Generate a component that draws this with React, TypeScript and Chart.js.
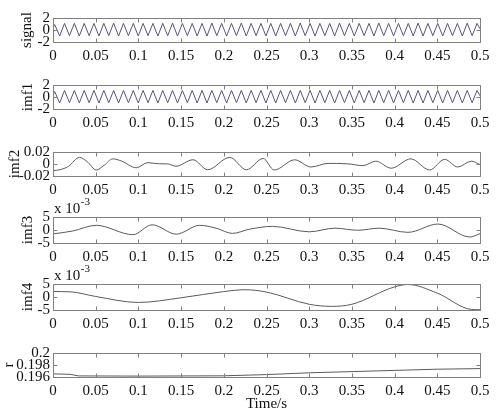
import React, { useEffect, useRef } from 'react';
import { Chart, registerables } from 'chart.js';

Chart.register(...registerables);

// ---------- data ----------
const X_TICKS = [0, 0.05, 0.1, 0.15, 0.2, 0.25, 0.3, 0.35, 0.4, 0.45, 0.5];
const X_TICK_LABELS = ['0', '0.05', '0.1', '0.15', '0.2', '0.25', '0.3', '0.35', '0.4', '0.45', '0.5'];

// times of the extrema of the fast oscillation (signal / imf1)
const EXTREMA_T = [
  0,
  0.002, 0.0078, 0.0135, 0.0193, 0.025, 0.0308, 0.0365, 0.0423, 0.048, 0.0538,
  0.0595, 0.0653, 0.071, 0.0768, 0.0825, 0.0883, 0.094, 0.0998, 0.1055, 0.1113,
  0.117, 0.1228, 0.1285, 0.1343, 0.14, 0.1458, 0.1515, 0.1573, 0.163, 0.1688,
  0.1745, 0.1803, 0.186, 0.1918, 0.1975, 0.2033, 0.209, 0.2148, 0.2205, 0.2263,
  0.232, 0.2378, 0.2435, 0.2493, 0.255, 0.2608, 0.2665, 0.2723, 0.278, 0.2838,
  0.2895, 0.2953, 0.301, 0.3068, 0.3125, 0.3183, 0.324, 0.3298, 0.3355, 0.3413,
  0.347, 0.3528, 0.3585, 0.3643, 0.37, 0.3758, 0.3815, 0.3873, 0.393, 0.3988,
  0.4045, 0.4103, 0.416, 0.4218, 0.4275, 0.4333, 0.439, 0.4448, 0.4505, 0.4563,
  0.462, 0.4678, 0.4735, 0.4793, 0.485, 0.4908, 0.4965,
  0.5,
];

const SIGNAL_V = [
  0.3,
  0.9, -1.0, 1.1, -0.95, 1.1, -1.0, 1.1, -0.95, 1.1, -1.0,
  1.1, -0.95, 1.15, -1.0, 1.1, -0.95, 1.1, -1.0, 1.1, -0.95,
  1.1, -1.0, 1.1, -0.95, 1.15, -1.0, 1.1, -0.95, 1.1, -1.0,
  1.1, -1.0, 1.15, -0.95, 1.1, -1.0, 1.1, -0.95, 1.15, -1.0,
  1.1, -0.95, 1.1, -1.0, 1.1, -1.0, 1.1, -0.95, 1.1, -1.0,
  1.15, -0.95, 1.1, -1.0, 1.1, -0.95, 1.1, -1.0, 1.15, -0.95,
  1.1, -1.0, 1.1, -0.95, 1.1, -1.0, 1.15, -0.95, 1.1, -1.0,
  1.1, -0.95, 1.1, -1.0, 1.15, -1.0, 1.1, -0.95, 1.1, -1.0,
  1.1, -0.95, 1.1, -1.0, 1.15, -0.95, 1.1,
  0.2,
];

const IMF1_V = [
  0.3,
  0.9, -1.0, 1.1, -0.95, 1.1, -1.0, 1.1, -0.95, 1.1, -1.0,
  1.1, -0.95, 1.1, -1.0, 1.1, -0.95, 1.1, -1.0, 1.1, -0.95,
  1.1, -1.0, 1.1, -0.95, 1.1, -1.0, 1.1, -0.95, 1.1, -1.0,
  1.1, -1.0, 1.1, -0.95, 1.1, -1.0, 1.1, -0.95, 1.1, -1.0,
  1.1, -0.95, 1.1, -1.0, 1.1, -1.0, 1.1, -0.95, 1.1, -1.0,
  1.1, -0.95, 1.1, -1.0, 1.1, -0.95, 1.1, -1.0, 1.1, -0.95,
  1.1, -1.0, 1.1, -0.95, 1.1, -1.0, 1.1, -0.95, 1.1, -1.0,
  1.1, -0.95, 1.1, -1.0, 1.1, -1.0, 1.1, -0.95, 1.1, -1.0,
  1.1, -0.95, 1.1, -1.0, 1.1, -0.95, 1.1,
  0.2,
];

const IMF2_T = [0, 0.008, 0.018, 0.031, 0.04, 0.0506, 0.06, 0.07, 0.08, 0.0975, 0.111, 0.125, 0.134, 0.144, 0.164, 0.181, 0.207, 0.2265, 0.246, 0.259, 0.283, 0.302, 0.322, 0.345, 0.363, 0.378, 0.396, 0.419, 0.441, 0.4586, 0.474, 0.49, 0.5];
const IMF2_V = [-0.011, -0.0096, -0.004, 0.011, 0.004, -0.01, -0.002, 0.0086, 0.005, -0.0062, 0.0022, 0.0003, 0.0002, -0.0037, 0.0071, -0.0096, 0.011, -0.0096, 0.0092, -0.01, 0.007, -0.005, 0.001, 0.0003, -0.0027, 0.0047, -0.007, 0.0086, -0.01, 0.0077, -0.005, 0.0047, -0.001];

// imf3 and imf4 in units of 1e-3
const IMF3_T = [0, 0.023, 0.0506, 0.0936, 0.116, 0.1444, 0.1717, 0.191, 0.21, 0.23, 0.257, 0.3, 0.33, 0.357, 0.382, 0.4156, 0.4508, 0.488, 0.5];
const IMF3_V = [-1.5, -0.4, 1.8, -1.8, 2.0, -1.6, 1.8, 0.7, -1.3, 0.3, 1.4, -0.7, 0.7, -0.1, 0.7, -0.9, 2.3, -2.7, -1.4];

const IMF4_T = [0, 0.02, 0.05, 0.1, 0.15, 0.2, 0.225, 0.25, 0.3, 0.3257, 0.35, 0.4, 0.4156, 0.45, 0.49, 0.5];
const IMF4_V = [2.1, 2.0, 0.2, -2.1, -0.3, 2.1, 2.8, 1.9, -2.8, -3.6, -2.8, 3.9, 4.8, 1.5, -4.8, -4.9];

const R_T = [0, 0.02, 0.03, 0.1, 0.2, 0.25, 0.3, 0.35, 0.4, 0.45, 0.5];
const R_V = [0.19652, 0.19645, 0.19618, 0.19615, 0.1962, 0.1964, 0.1967, 0.1969, 0.1971, 0.1973, 0.1974];

const PM2_TICKS = [-2, 0, 2];
const PM2_LABELS = ['-2', '0', '2'];
const IMF2_TICKS = [-0.02, 0, 0.02];
const IMF2_LABELS = ['-0.02', '0', '0.02'];
const PM5_TICKS = [-5, 0, 5];
const PM5_LABELS = ['-5', '0', '5'];
const R_TICKS = [0.196, 0.198, 0.2];
const R_LABELS = ['0.196', '0.198', '0.2'];

const Y_TITLES = ['signal', 'imf1', 'imf2', 'imf3', 'imf4', 'r'];
const X_TITLE = 'Time/s';
const EXPONENT_BASE = 'x 10';
const EXPONENT_POWER = '-3';

// ---------- styling ----------
const FONT = "'Liberation Serif', 'Times New Roman', serif";
const TEXT_COLOR = '#111111';
const AXIS_COLOR = '#808080';
const LINE_COLOR = '#5a5a5a';
const FAST_COLOR = '#55557e';
const W = 498;
const AXIS_W = 53;
const PLOT_H = 26;

type Panel = {
  title: string;
  t: number[];
  v: number[];
  min: number;
  max: number;
  ticks: number[];
  labels: string[];
  top: number;
  padTop: number;
  titlePad: number;
  smooth: boolean;
  exponent: boolean;
  xTitle?: string;
  xAxisH: number;
  color: string;
};

const PANELS: Panel[] = [
  { title: Y_TITLES[0], t: EXTREMA_T, v: SIGNAL_V, min: -2, max: 2, ticks: PM2_TICKS, labels: PM2_LABELS, top: 16, padTop: 10, titlePad: 18, smooth: false, exponent: false, xAxisH: 22, color: FAST_COLOR },
  { title: Y_TITLES[1], t: EXTREMA_T, v: IMF1_V, min: -2, max: 2, ticks: PM2_TICKS, labels: PM2_LABELS, top: 83, padTop: 10, titlePad: 19, smooth: false, exponent: false, xAxisH: 22, color: FAST_COLOR },
  { title: Y_TITLES[2], t: IMF2_T, v: IMF2_V, min: -0.02, max: 0.02, ticks: IMF2_TICKS, labels: IMF2_LABELS, top: 150, padTop: 10, titlePad: 6, smooth: true, exponent: false, xAxisH: 22, color: LINE_COLOR },
  { title: Y_TITLES[3], t: IMF3_T, v: IMF3_V, min: -5, max: 5, ticks: PM5_TICKS, labels: PM5_LABELS, top: 217, padTop: 22, titlePad: 19, smooth: true, exponent: true, xAxisH: 22, color: LINE_COLOR },
  { title: Y_TITLES[4], t: IMF4_T, v: IMF4_V, min: -5, max: 5, ticks: PM5_TICKS, labels: PM5_LABELS, top: 284, padTop: 22, titlePad: 19, smooth: true, exponent: true, xAxisH: 22, color: LINE_COLOR },
  { title: Y_TITLES[5], t: R_T, v: R_V, min: 0.196, max: 0.2, ticks: R_TICKS, labels: R_LABELS, top: 351, padTop: 10, titlePad: 0, smooth: false, exponent: false, xTitle: X_TITLE, xAxisH: 38, color: LINE_COLOR },
];

function makeFramePlugin(p: Panel) {
  return {
    id: 'frame',
    afterDraw(chart: any) {
      const { ctx, chartArea: a, scales } = chart;
      ctx.save();
      ctx.strokeStyle = AXIS_COLOR;
      ctx.lineWidth = 1;
      const L = Math.round(a.left) + 0.5;
      const R = Math.round(a.right) + 0.5;
      const T = Math.round(a.top) + 0.5;
      const B = Math.round(a.bottom) + 0.5;
      ctx.beginPath();
      ctx.rect(L, T, R - L, B - T);
      for (const v of X_TICKS) {
        const px = Math.round(scales.x.getPixelForValue(v)) + 0.5;
        ctx.moveTo(px, T);
        ctx.lineTo(px, T + 4);
        ctx.moveTo(px, B);
        ctx.lineTo(px, B - 4);
      }
      for (const v of p.ticks) {
        const py = Math.round(scales.y.getPixelForValue(v)) + 0.5;
        ctx.moveTo(L, py);
        ctx.lineTo(L + 4, py);
        ctx.moveTo(R, py);
        ctx.lineTo(R - 4, py);
      }
      ctx.stroke();
      if (p.exponent) {
        ctx.fillStyle = TEXT_COLOR;
        ctx.textBaseline = 'middle';
        ctx.textAlign = 'left';
        ctx.font = `15px ${FONT}`;
        const x0 = a.left + 1;
        ctx.fillText(EXPONENT_BASE, x0, a.top - 8);
        const w = ctx.measureText(EXPONENT_BASE).width;
        ctx.font = `11px ${FONT}`;
        ctx.fillText(EXPONENT_POWER, x0 + w + 0.5, a.top - 15);
      }
      ctx.restore();
    },
  };
}

function canvasHeight(p: Panel) {
  return p.padTop + PLOT_H + p.xAxisH;
}

export default function App() {
  const refs = useRef<(HTMLCanvasElement | null)[]>([]);

  useEffect(() => {
    const charts: Chart[] = [];
    PANELS.forEach((p, i) => {
      const canvas = refs.current[i];
      if (!canvas) return;
      const data = p.t.map((t, k) => ({ x: t, y: p.v[k] }));
      const chart = new Chart(canvas, {
        type: 'line',
        data: {
          datasets: [
            {
              data,
              borderColor: p.color,
              borderWidth: 1,
              pointRadius: 0,
              fill: false,
              tension: p.smooth ? 0.4 : 0,
              cubicInterpolationMode: p.smooth ? 'monotone' : 'default',
            } as any,
          ],
        },
        options: {
          animation: false,
          responsive: false,
          maintainAspectRatio: false,
          events: [],
          layout: { padding: { top: p.padTop, right: W - 480, bottom: 0, left: 0 } },
          plugins: { legend: { display: false }, tooltip: { enabled: false } },
          scales: {
            x: {
              type: 'linear',
              min: 0,
              max: 0.5,
              grid: { display: false, drawTicks: false },
              border: { display: false },
              afterBuildTicks: (s: any) => {
                s.ticks = X_TICKS.map((value) => ({ value }));
              },
              afterFit: (s: any) => {
                s.height = p.xAxisH;
              },
              ticks: {
                autoSkip: false,
                maxRotation: 0,
                minRotation: 0,
                padding: 5,
                color: TEXT_COLOR,
                font: { family: FONT, size: 15 },
                callback: (_v: any, idx: number) => X_TICK_LABELS[idx],
              },
              title: p.xTitle
                ? {
                    display: true,
                    text: p.xTitle,
                    color: TEXT_COLOR,
                    font: { family: FONT, size: 15, lineHeight: 1.2 },
                    padding: { top: 0, bottom: 1.5 },
                  }
                : { display: false },
            },
            y: {
              type: 'linear',
              min: p.min,
              max: p.max,
              grid: { display: false, drawTicks: false },
              border: { display: false },
              afterBuildTicks: (s: any) => {
                s.ticks = p.ticks.map((value) => ({ value }));
              },
              afterFit: (s: any) => {
                s.width = AXIS_W;
              },
              ticks: {
                autoSkip: false,
                padding: 3,
                color: TEXT_COLOR,
                font: { family: FONT, size: 15 },
                callback: (_v: any, idx: number) => p.labels[idx],
              },
              title: {
                display: true,
                text: p.title,
                color: TEXT_COLOR,
                font: { family: FONT, size: 15, lineHeight: 1.2 },
                padding: { top: p.titlePad, bottom: 0 },
              },
            },
          },
        } as any,
        plugins: [makeFramePlugin(p)],
      });
      charts.push(chart);
    });
    return () => charts.forEach((c) => c.destroy());
  }, []);

  return (
    <div style={{ position: 'fixed', left: 0, top: 0, width: W, height: 416, background: '#ffffff', overflow: 'hidden' }}>
      {PANELS.map((p, i) => (
        <canvas
          key={p.title}
          ref={(el) => {
            refs.current[i] = el;
          }}
          width={W}
          height={canvasHeight(p)}
          style={{ position: 'absolute', left: 0, top: p.top - p.padTop, width: W, height: canvasHeight(p) }}
        />
      ))}
    </div>
  );
}
